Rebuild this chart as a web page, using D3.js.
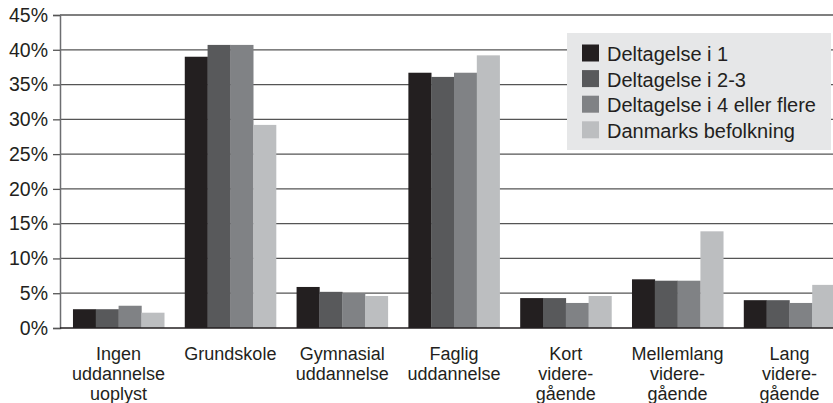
<!DOCTYPE html>
<html>
<head>
<meta charset="utf-8">
<script src="https://cdn.jsdelivr.net/npm/d3@7"></script>
<style>
  html, body { margin: 0; padding: 0; background: #fff; }
  svg { display: block; }
  text { font-family: "Liberation Sans", Arial, Helvetica, sans-serif; fill: #231f20; }
</style>
</head>
<body>
<svg id="chart" width="833" height="403"></svg>
<script>
const categories = [
  ["Ingen", "uddannelse", "uoplyst"],
  ["Grundskole"],
  ["Gymnasial", "uddannelse"],
  ["Faglig", "uddannelse"],
  ["Kort", "videre-", "gående"],
  ["Mellemlang", "videre-", "gående"],
  ["Lang", "videre-", "gående"]
];
const seriesNames = ["Deltagelse i 1", "Deltagelse i 2-3", "Deltagelse i 4 eller flere", "Danmarks befolkning"];
const deltagelse1   = [2.7, 39.0, 5.9, 36.7, 4.3, 7.0, 4.0];
const deltagelse23  = [2.7, 40.7, 5.2, 36.1, 4.3, 6.8, 4.0];
const deltagelse4   = [3.2, 40.7, 5.0, 36.7, 3.6, 6.8, 3.6];
const befolkning    = [2.2, 29.2, 4.6, 39.2, 4.6, 13.9, 6.2];
const yTicks = [0, 5, 10, 15, 20, 25, 30, 35, 40, 45];
const colors = ["#231f20", "#58595b", "#808285", "#bcbec0"];

const seriesValues = [deltagelse1, deltagelse23, deltagelse4, befolkning];
const keys = categories.map((c, i) => i);

const svg = d3.select("#chart");
const mLeft = 60, mTop = 15, mBottom = 328;

const y = d3.scaleLinear().domain([0, 45]).range([mBottom, mTop]);
const x = d3.scaleBand().domain(keys).range([mLeft, 848]).paddingInner(0.184).paddingOuter(0.116);
const xs = d3.scaleBand().domain(d3.range(seriesNames.length)).range([0, x.bandwidth()]);

// gridlines
svg.append("g").selectAll("line").data(yTicks.filter(t => t > 0)).join("line")
  .attr("x1", mLeft).attr("x2", 833)
  .attr("y1", d => y(d)).attr("y2", d => y(d))
  .attr("stroke", "#555").attr("stroke-width", 1.3);

// y axis
const yAxis = d3.axisLeft(y).tickValues(yTicks).tickFormat(d => d + "%").tickSize(7).tickPadding(5);
const gy = svg.append("g").attr("transform", `translate(${mLeft},0)`).call(yAxis);
gy.select(".domain").attr("stroke", "#6d6e71").attr("stroke-width", 1.5);
gy.selectAll(".tick line").attr("stroke", "#555").attr("stroke-width", 1.3);
gy.selectAll(".tick text").attr("font-size", 19.5).attr("fill", "#231f20")
  .style("font-family", '"Liberation Sans", Arial, sans-serif');

// bars
const groups = svg.append("g").selectAll("g").data(keys).join("g")
  .attr("transform", d => `translate(${x(d)},0)`);
groups.selectAll("rect").data(i => seriesValues.map((s, k) => ({k, v: s[i]}))).join("rect")
  .attr("x", d => xs(d.k))
  .attr("width", xs.bandwidth() + 0.3)
  .attr("y", d => y(d.v))
  .attr("height", d => y(0) - y(d.v))
  .attr("fill", d => colors[d.k]);

// bottom axis line
svg.append("line").attr("x1", mLeft).attr("x2", 833).attr("y1", mBottom).attr("y2", mBottom)
  .attr("stroke", "#231f20").attr("stroke-width", 1.5);

// x labels
const xl = svg.append("g").selectAll("text").data(keys).join("text")
  .attr("x", d => x(d) + x.bandwidth() / 2)
  .attr("y", 359.5)
  .attr("text-anchor", "middle")
  .attr("font-size", 18);
xl.selectAll("tspan").data(i => categories[i]).join("tspan")
  .attr("x", function() { return d3.select(this.parentNode).attr("x"); })
  .attr("dy", (d, j) => j === 0 ? 0 : 20.2)
  .text(d => d);

// legend
const lg = svg.append("g");
lg.append("rect").attr("x", 567).attr("y", 33).attr("width", 264).attr("height", 117)
  .attr("fill", "#e6e7e8");
const items = lg.selectAll("g").data(seriesNames).join("g")
  .attr("transform", (d, i) => `translate(582,${44.5 + i * 25.6})`);
items.append("rect").attr("width", 17).attr("height", 17).attr("fill", (d, i) => colors[i]);
items.append("text").attr("x", 25).attr("y", 16.5).attr("font-size", 20)
  .style("font-variant-ligatures", "none").text(d => d);
</script>
</body>
</html>
